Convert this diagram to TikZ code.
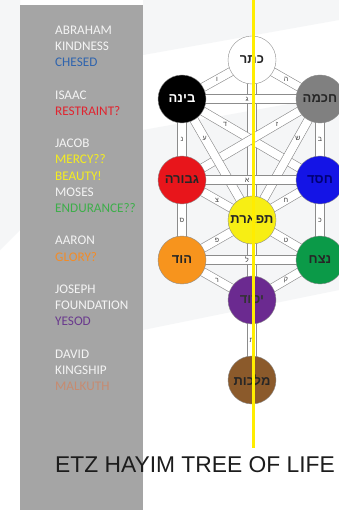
\documentclass[tikz,border=0pt]{standalone}
\usepackage{fontspec}
\setmainfont{Carlito}
\newfontfamily\hebfont[Script=Hebrew]{Liberation Sans}
\newfontfamily\titlefont{Liberation Sans}
\TeXXeTstate=1
\newcommand{\heb}[1]{\hebfont\beginR #1\endR}

\definecolor{panelgrey}{HTML}{A5A5A5}
\definecolor{hazegrey}{HTML}{F5F6F7}
\definecolor{legendwhite}{HTML}{F4F4F4}
\definecolor{chesedblue}{HTML}{2F64AE}
\definecolor{restraintred}{HTML}{E02530}
\definecolor{mercyyellow}{HTML}{F5EE1E}
\definecolor{endurancegreen}{HTML}{3DAE4A}
\definecolor{gloryorange}{HTML}{F28C28}
\definecolor{yesodpurple}{HTML}{6A3A8E}
\definecolor{malkuthbrown}{HTML}{C78B70}
\definecolor{chokhmahfill}{HTML}{808080}
\definecolor{gevurahfill}{HTML}{E8151B}
\definecolor{chesedfill}{HTML}{1414E6}
\definecolor{tiferetfill}{HTML}{F7EE14}
\definecolor{hodfill}{HTML}{F7941D}
\definecolor{netzachfill}{HTML}{0B9A48}
\definecolor{yesodfill}{HTML}{6B2A90}
\definecolor{malkuthfill}{HTML}{8B5A2B}
\definecolor{axisyellow}{HTML}{FFED00}
\definecolor{titleblack}{HTML}{1C1C1C}

\pgfdeclarelayer{backdrop}
\pgfdeclarelayer{paths}
\pgfsetlayers{backdrop,paths,main}

\tikzset{
  legend/.style={anchor=base west, inner sep=0pt, text=legendwhite,
    font=\fontsize{13.2}{16}\selectfont},
  sefira/.style={circle, minimum size=48pt, inner sep=0pt, draw=black!45,
    line width=0.4pt, text=black!85, font=\fontsize{13}{13}\selectfont\bfseries},
  pathband/.style={draw=black!45, line width=0.6pt, double=white,
    double distance=8pt, shorten <=-3pt, shorten >=-3pt},
  pathletter/.style={inner sep=0pt, text=black!75,
    font=\hebfont\fontsize{7}{7}\selectfont},
  axis/.style={axisyellow, line width=3pt},
  heading/.style={anchor=base west, inner sep=0pt, text=titleblack,
    font=\titlefont\fontsize{22.8}{24}\selectfont}
}

\begin{document}
\begin{tikzpicture}[x=1pt,y=-1pt]
  \useasboundingbox (0,0) rectangle (339,510);
  \begin{pgfonlayer}{backdrop}
    \fill [white] (0,0) rectangle (339,510);
    % faint backdrop
    \fill [hazegrey] (143,130) -- (339,95) -- (339,290) -- (143,330) -- cycle;
    \fill [hazegrey] (0,0) -- (20,0) -- (20,230) -- (0,250) -- cycle;
    \fill [hazegrey] (143,0) -- (339,0) -- (339,20) -- (143,55) -- cycle;
    \fill [panelgrey] (20,5) rectangle (143,510);
  \end{pgfonlayer}

  % legend column
  \node [legend] (abraham) at (55,34.3) {ABRAHAM};
  \node [legend] (kindness) at (55,50.5) {KINDNESS};
  \node [legend, text=chesedblue] (chesedname) at (55,66.7) {CHESED};
  \node [legend] (isaac) at (55,99.1) {ISAAC};
  \node [legend, text=restraintred] (restraint) at (55,115.3) {RESTRAINT?};
  \node [legend] (jacob) at (55,147.7) {JACOB};
  \node [legend, text=mercyyellow] (mercy) at (55,163.9) {MERCY??};
  \node [legend, text=mercyyellow] (beauty) at (55,180.1) {BEAUTY!};
  \node [legend] (moses) at (55,196.3) {MOSES};
  \node [legend, text=endurancegreen] (endurance) at (55,212.5) {ENDURANCE??};
  \node [legend] (aaron) at (55,244.9) {AARON};
  \node [legend, text=gloryorange] (glory) at (55,261.1) {GLORY?};
  \node [legend] (joseph) at (55,293.5) {JOSEPH};
  \node [legend] (foundation) at (55,309.7) {FOUNDATION};
  \node [legend, text=yesodpurple] (yesodname) at (55,325.9) {YESOD};
  \node [legend] (david) at (55,358.3) {DAVID};
  \node [legend] (kingship) at (55,374.5) {KINGSHIP};
  \node [legend, text=malkuthbrown] (malkuthname) at (55,390.7) {MALKUTH};

  % sefirot
  \node [sefira, fill=white] (keter) at (252,60) {\heb{כתר}};
  \node [sefira, fill=black, text=white] (binah) at (182,99) {\heb{בינה}};
  \node [sefira, fill=chokhmahfill] (chokhmah) at (320,99) {\heb{חכמה}};
  \node [sefira, fill=gevurahfill] (gevurah) at (182,180) {\heb{גבורה}};
  \node [sefira, fill=chesedfill, text=blue!45!black] (chesed) at (320,180) {\heb{חסד}};
  \node [sefira, fill=tiferetfill] (tiferet) at (252,220) {\heb{תפארת}};
  \node [sefira, fill=hodfill] (hod) at (182,260) {\heb{הוד}};
  \node [sefira, fill=netzachfill] (netzach) at (320,260) {\heb{נצח}};
  \node [sefira, fill=yesodfill, text=black!80] (yesod) at (252,300) {\heb{יסוד}};
  \node [sefira, fill=malkuthfill] (malkuth) at (252,380) {\heb{מלכות}};

  % the 22 paths
  \begin{pgfonlayer}{paths}
    \draw [pathband] (keter) -- node [pathletter] {ו} (binah);
    \draw [pathband] (keter) -- node [pathletter] {ה} (chokhmah);
    \draw [pathband] (keter) -- node [pathletter] {י} (tiferet);
    \draw [pathband] (binah) -- node [pathletter, xshift=-4pt] {ג} (chokhmah);
    \draw [pathband] (binah) -- node [pathletter, pos=0.23] {ד} (chesed);
    \draw [pathband] (chokhmah) -- node [pathletter, pos=0.23] {ז} (gevurah);
    \draw [pathband] (binah) -- node [pathletter, pos=0.23] {ע} (tiferet);
    \draw [pathband] (chokhmah) -- node [pathletter, pos=0.23] {ש} (tiferet);
    \draw [pathband] (binah) -- node [pathletter] {נ} (gevurah);
    \draw [pathband] (chokhmah) -- node [pathletter] {ב} (chesed);
    \draw [pathband] (gevurah) -- node [pathletter, xshift=-4pt] {א} (chesed);
    \draw [pathband] (gevurah) -- node [pathletter] {צ} (tiferet);
    \draw [pathband] (chesed) -- node [pathletter] {ח} (tiferet);
    \draw [pathband] (gevurah) -- node [pathletter] {ס} (hod);
    \draw [pathband] (chesed) -- node [pathletter] {כ} (netzach);
    \draw [pathband] (tiferet) -- node [pathletter] {פ} (hod);
    \draw [pathband] (tiferet) -- node [pathletter] {ט} (netzach);
    \draw [pathband] (tiferet) -- (yesod);
    \draw [pathband] (hod) -- node [pathletter, xshift=-4pt] {ל} (netzach);
    \draw [pathband] (hod) -- node [pathletter] {ר} (yesod);
    \draw [pathband] (netzach) -- node [pathletter] {ק} (yesod);
    \draw [pathband] (yesod) -- node [pathletter] {ת} (malkuth);
  \end{pgfonlayer}

  % middle pillar line
  \coordinate (axistop) at (253,0);
  \coordinate (axisbottom) at (253,448);
  \draw [axis] (axistop) -- (axisbottom);

  \node [heading] (etzhayim) at (55,472) {ETZ HAYIM TREE OF LIFE};
\end{tikzpicture}
\end{document}
